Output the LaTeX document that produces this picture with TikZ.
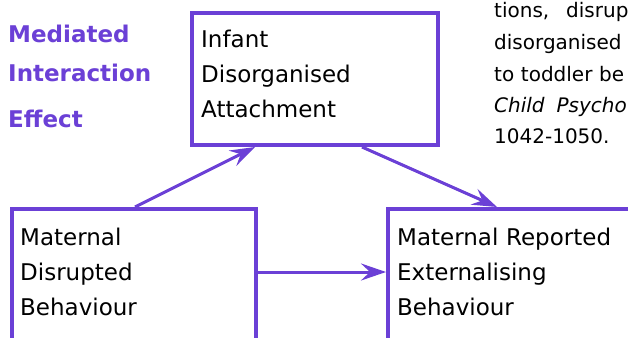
\documentclass[tikz,border=0pt]{standalone}
\usepackage{fontspec}
\setmainfont{DejaVu Sans}
\usetikzlibrary{arrows.meta}
\definecolor{purp}{HTML}{6B40D6}
\begin{document}
\begin{tikzpicture}[x=1pt,y=-1pt,
  box/.style={draw=purp, line width=4pt, rectangle, inner sep=0pt, anchor=north west},
  boxtext/.style={anchor=base west, inner sep=0pt, text width=240pt, align=left,
    font=\fontsize{23}{35}\selectfont},
  link/.style={draw=purp, line width=3pt,
    -{Stealth[length=25pt,width=17pt,inset=9pt]}},
  title/.style={anchor=base west, inner sep=0pt, text width=200pt, align=left,
    text=purp, font=\bfseries\fontsize{23}{39}\selectfont},
  ref/.style={anchor=base west, inner sep=0pt, text width=200pt, align=left,
    font=\fontsize{20}{31.5}\selectfont}
]
\useasboundingbox (0,0) rectangle (628,337);
\clip (0,0) rectangle (628,337);
\fill[white] (0,0) rectangle (628,337);

% boxes
\node[box, minimum width=246pt, minimum height=132pt] (tbox) at (190,11) {};
\node[box, minimum width=244pt, minimum height=153pt] (lbox) at (10,207) {};
\node[box, minimum width=274pt, minimum height=153pt] (rbox) at (386,207) {};

% box texts
\node[boxtext] (ttext) at (201,48) {Infant\\Disorganised\\Attachment};
\node[boxtext] (ltext) at (20,245) {Maternal\\Disrupted\\Behaviour};
\node[boxtext] (rtext) at (397,245) {Maternal Reported\\Externalising\\Behaviour};

% title
\node[title] (heading) at (8,43) {Mediated\\Interaction\\[6pt]Effect};

% reference text (cut at the right edge)
\node[ref] (reftext) at (494,18) {tions,\hspace{16.9pt}disrup\\disorganised\\to toddler be\\\textit{Child\hspace{12pt}Psycho}\\1042-1050.};

% connectors
\draw[link] ([xshift=125pt]lbox.north west) -- ([xshift=65pt]tbox.south west);
\draw[link] ([xshift=172pt]tbox.south west) -- ([xshift=111pt]rbox.north west);
\draw[link] ([yshift=-65pt]lbox.north east) -- ([yshift=-65pt]rbox.north west);
\end{tikzpicture}
\end{document}
